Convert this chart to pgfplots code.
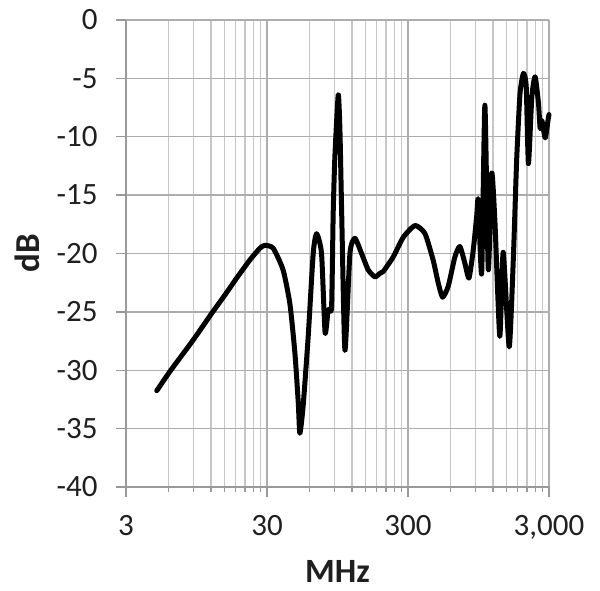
\documentclass[border=0pt]{standalone}
\usepackage{pgfplots}
\pgfplotsset{compat=1.18}
\usepackage{fontspec}
\setmainfont{Carlito}
\begin{document}
\begin{tikzpicture}[x=1pt,y=1pt]
\path[use as bounding box] (0,0) rectangle (600,591);
\begin{axis}[
  at={(126pt,104pt)}, anchor=south west,
  scale only axis, width=423pt, height=467pt,
  xmode=log, xmin=3, xmax=3000, ymin=-40, ymax=0,
  xtick={3,30,300,3000}, xticklabels={3,30,300,{3,000}},
  minor xtick={6,9,12,15,18,21,24,27,60,90,120,150,180,210,240,270,600,900,1200,1500,1800,2100,2400,2700},
  ytick={-40,-35,...,0}, yticklabels={-40,-35,-30,-25,-20,-15,-10,-5,0},
  grid=both,
  major grid style={draw=black!32, line width=1.4pt},
  minor grid style={draw=black!22, line width=1.4pt},
  axis x line*=bottom, axis y line*=left,
  axis line style={draw=black!40, line width=1.4pt, -},
  tick style={draw=black!40, line width=1.4pt},
  tick align=outside,
  major tick length=10pt, minor tick length=5pt,
  tick label style={font=\fontsize{31}{36}\selectfont, text=black!88},
  xticklabel style={anchor=north, yshift=-15pt},
  yticklabel style={anchor=east, xshift=-15pt},
  xlabel={MHz}, ylabel={dB},
  xlabel style={at={(axis description cs:0.5,-0.181)}, anchor=center, inner sep=0pt, font=\fontsize{34}{38}\selectfont\bfseries, text=black!88},
  ylabel style={at={(axis description cs:-0.233,0.5)}, anchor=center, inner sep=0pt, rotate=0, font=\fontsize{35}{40}\selectfont\bfseries, text=black!88},
  clip=false,
]
\addplot[black, line width=5pt, smooth, tension=0.35, line join=round, line cap=round] coordinates {
(4.96,-31.75) (6.15,-30.1) (9.0,-27.4) (12.2,-25.1) (15.1,-23.55) (18.3,-22.1)
(22.7,-20.55) (26.7,-19.55) (29.0,-19.3) (33.2,-19.55) (39.0,-21.4) (43.6,-24.3)
(47.3,-28.5) (50.0,-32.8) (51.3,-35.4) (54.1,-33.1) (58.8,-27.1) (63.8,-20.0)
(67.4,-18.3) (73.1,-20.0) (77.5,-26.8) (81.5,-24.8) (86.1,-24.6) (88.4,-16.6)
(90.9,-11.7) (96.0,-6.4) (98.7,-9.4) (101.6,-16.6) (107.1,-28.3) (116.2,-20.0)
(126,-18.7) (140.6,-20.0) (156.6,-21.4) (175,-22.0) (189.8,-21.7) (200,-21.55)
(235.5,-20.3) (278,-18.6) (336.7,-17.6) (396,-18.3) (453,-20.6) (492,-22.55)
(528,-23.75) (579,-22.8) (645,-20.3) (700,-19.4) (760,-20.85) (812,-22.1)
(871,-19.7) (921,-16.8) (945,-15.4) (999,-21.7) (1053,-7.3) (1113,-21.4)
(1177,-13.1) (1242,-17.4) (1343,-27.1) (1420,-19.9) (1566,-28.0) (1675,-20.5)
(1769,-12.0) (1869,-6.3) (1977,-4.57) (2068,-5.7) (2144,-12.3) (2267,-6.57)
(2391,-4.86) (2525,-7.1) (2597,-9.3) (2670,-8.6) (2821,-10.1) (2968,-8.4) (3000,-8.1)
};
\end{axis}
\end{tikzpicture}
\end{document}
